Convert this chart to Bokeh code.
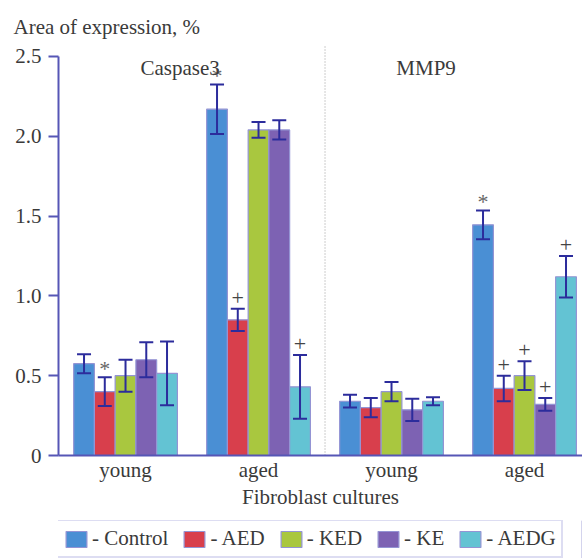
from bokeh.plotting import figure
from bokeh.layouts import column
from bokeh.models import (ColumnDataSource, Whisker, TeeHead, Legend, LegendItem,
                          FixedTicker, Label)
from bokeh.core.properties import value
from bokeh.embed import file_html
from bokeh.resources import INLINE

# ---- data ----
groups = ["young", "aged", "young", "aged"]
panels = ["Caspase3", "MMP9"]
series = ["Control", "AED", "KED", "KE", "AEDG"]
colors = ["#4a8fd4", "#d83f4c", "#a9c73f", "#7d62b3", "#63c3d3"]

control = [0.575, 2.17, 0.34, 1.445]
aed = [0.40, 0.85, 0.30, 0.42]
ked = [0.50, 2.04, 0.40, 0.50]
ke = [0.60, 2.04, 0.286, 0.32]
aedg = [0.515, 0.43, 0.34, 1.12]

control_err = [0.06, 0.155, 0.04, 0.09]
aed_err = [0.09, 0.07, 0.06, 0.08]
ked_err = [0.10, 0.05, 0.06, 0.09]
ke_err = [0.11, 0.06, 0.07, 0.04]
aedg_err = [0.20, 0.20, 0.025, 0.13]

control_mark = ["", "*", "", "*"]
aed_mark = ["*", "+", "", "+"]
ked_mark = ["", "", "", "+"]
ke_mark = ["", "", "", "+"]
aedg_mark = ["", "+", "", "+"]

y_ticks = [0, 0.5, 1.0, 1.5, 2.0, 2.5]
y_tick_labels = ["0", "0.5", "1.0", "1.5", "2.0", "2.5"]

values = [control, aed, ked, ke, aedg]
errors = [control_err, aed_err, ked_err, ke_err, aedg_err]
marks = [control_mark, aed_mark, ked_mark, ke_mark, aedg_mark]

FONT = "Liberation Serif"
FS = "21px"
TXT = "#3a3a3a"
AXC = "#5656b6"
ERRC = "#2c2c9c"
BAR_W = 0.156

p = figure(width=582, height=520, x_range=(-0.504, 3.436), y_range=(0, 2.60),
           output_backend="svg", toolbar_location=None,
           min_border_left=58, min_border_right=0, min_border_top=40,
           min_border_bottom=65)
p.grid.visible = False
p.outline_line_color = None

p.title.text = "Area of expression, %"
p.title.align = "left"
p.title.offset = -45
p.title.standoff = 4
p.title.text_font = FONT
p.title.text_font_size = FS
p.title.text_font_style = "normal"
p.title.text_color = TXT

base = list(range(len(groups)))
for i, (name, col) in enumerate(zip(series, colors)):
    off = (i - 2) * BAR_W
    xs = [b + off for b in base]
    vals = values[i]
    errs = errors[i]
    src = ColumnDataSource(dict(
        x=xs, top=vals,
        upper=[v + e for v, e in zip(vals, errs)],
        lower=[v - e for v, e in zip(vals, errs)],
        star=[m if m == "*" else "" for m in marks[i]],
        plus=[m if m == "+" else "" for m in marks[i]]))
    p.vbar(x="x", top="top", width=BAR_W, source=src, fill_color=col,
           line_color="#9494d4", line_width=1.2)
    w = Whisker(source=src, base="x", upper="upper", lower="lower",
                line_color=ERRC, line_width=2, level="overlay",
                upper_head=TeeHead(size=14, line_color=ERRC, line_width=2),
                lower_head=TeeHead(size=14, line_color=ERRC, line_width=2))
    p.add_layout(w)
    p.text(x="x", y="upper", text="star", source=src,
           text_font=value(FONT), text_font_size="22px", text_color="#666666",
           text_align="center", text_baseline="middle", y_offset=-9)
    p.text(x="x", y="upper", text="plus", source=src,
           text_font=value(FONT), text_font_size="22px", text_color="#444444",
           text_align="center", text_baseline="middle", y_offset=-11)

# divider between panels
mid = (base[1] + base[2]) / 2
p.segment(x0=[mid], y0=[0], x1=[mid], y1=[y_ticks[-1] + 0.07],
          line_color="#9a9a9a", line_dash="1 2", line_width=1)

# panel titles
for txt, gx in zip(panels, [(base[0] + base[1]) / 2 - 0.09, (base[2] + base[3]) / 2 - 0.24]):
    p.add_layout(Label(x=gx, y=2.425, text=txt, text_font=FONT, text_font_size=FS,
                       text_color=TXT, text_align="center", text_baseline="alphabetic"))

# axes
ya = p.yaxis[0]
ya.ticker = FixedTicker(ticks=y_ticks)
ya.major_label_overrides = {t: l for t, l in zip(y_ticks, y_tick_labels)}
ya.bounds = (y_ticks[0], y_ticks[-1])
ya.major_tick_out = 10
ya.major_tick_in = 0
ya.minor_tick_line_color = None
ya.axis_line_color = AXC
ya.axis_line_width = 2
ya.major_tick_line_color = AXC
ya.major_tick_line_width = 2
ya.major_label_text_font = FONT
ya.major_label_text_font_size = FS
ya.major_label_text_color = TXT
ya.major_label_standoff = 7

xa = p.xaxis[0]
xa.ticker = FixedTicker(ticks=base)
xa.major_label_overrides = {b: g for b, g in zip(base, groups)}
xa.major_tick_out = 0
xa.major_tick_in = 0
xa.minor_tick_line_color = None
xa.major_tick_line_color = None
xa.axis_line_color = AXC
xa.axis_line_width = 2
xa.major_label_text_font = FONT
xa.major_label_text_font_size = FS
xa.major_label_text_color = TXT
xa.major_label_standoff = 2
xa.axis_label = "Fibroblast cultures"
xa.axis_label_text_font = FONT
xa.axis_label_text_font_size = FS
xa.axis_label_text_font_style = "normal"
xa.axis_label_text_color = TXT
xa.axis_label_standoff = 0

# legend strip
pl = figure(width=582, height=38, x_range=(0, 1), y_range=(0, 1),
            output_backend="svg", toolbar_location=None,
            min_border_left=0, min_border_right=0, min_border_top=0,
            min_border_bottom=0)
pl.axis.visible = False
pl.grid.visible = False
pl.outline_line_color = None
items = []
for name, col in zip(series, colors):
    r = pl.vbar(x=[5], top=[1], width=0.1, fill_color=col,
                line_color="#9494d4", line_width=1.2)
    items.append(LegendItem(label="- " + name, renderers=[r]))
# dark edge on the right side of the legend frame
pl.segment(x0=[0.958], y0=[0.0], x1=[0.958], y1=[0.82],
           line_color="#34349e", line_width=3)
legend = Legend(items=items, orientation="horizontal", location=(-2, 0),
                glyph_width=26, glyph_height=20, label_standoff=3, spacing=13,
                padding=5, margin=0, border_line_color="#bcbce6", border_line_width=2,
                label_text_font=FONT, label_text_font_size=FS,
                label_text_color=TXT, background_fill_alpha=1)
pl.add_layout(legend, "center")

layout = column(p, pl, spacing=0)
open("out.html", "w").write(file_html(layout, INLINE))
